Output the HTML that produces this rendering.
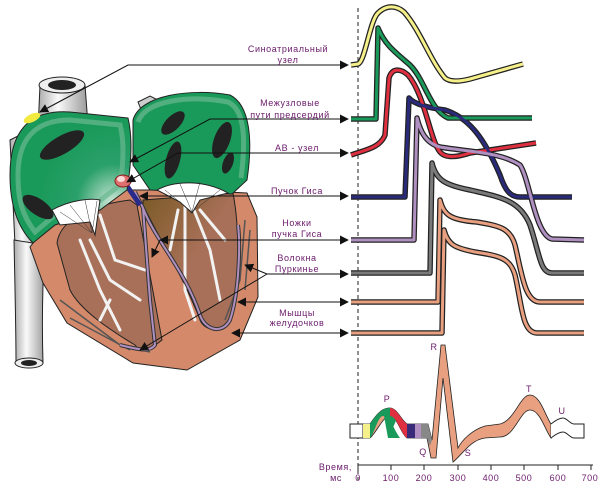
<!DOCTYPE html>
<html><head><meta charset="utf-8"><style>
html,body{margin:0;padding:0;background:#fff;width:600px;height:492px;overflow:hidden}
svg{display:block}
text{font-family:"Liberation Sans",sans-serif;font-size:9px;fill:#6a1a6a;letter-spacing:0.6px}
</style></head><body>
<svg width="600" height="492" viewBox="0 0 600 492" xmlns="http://www.w3.org/2000/svg">
<defs>
<marker id="ah" viewBox="0 0 10 10" refX="9" refY="5" markerWidth="9" markerHeight="9" orient="auto-start-reverse" markerUnits="userSpaceOnUse"><path d="M0,0 L10,5 L0,10 Z" fill="#111"/></marker>
<radialGradient id="gl" cx="0.85" cy="0.7" r="0.6"><stop offset="0" stop-color="#cfe8d8"/><stop offset="0.5" stop-color="#2aa06a"/><stop offset="1" stop-color="#1a9a5a"/></radialGradient>
<linearGradient id="tube" x1="0" x2="1"><stop offset="0" stop-color="#aaa"/><stop offset="0.4" stop-color="#fafafa"/><stop offset="1" stop-color="#999"/></linearGradient>
<linearGradient id="ch2" x1="0" y1="0" x2="1" y2="1"><stop offset="0" stop-color="#7a5a25"/><stop offset="0.5" stop-color="#a87058"/><stop offset="1" stop-color="#a87058"/></linearGradient>
</defs>

<path d="M40,85 L85,85 L88,125 L60,130 L38,130 Z" fill="url(#tube)" stroke="#222" stroke-width="1"/>
<ellipse cx="62" cy="85" rx="23" ry="8" fill="#eee" stroke="#222"/>
<ellipse cx="62" cy="85" rx="14" ry="5" fill="#222"/>
<path d="M10,140 L40,125 L35,250 L15,245 Z" fill="url(#tube)" stroke="#222"/>
<path d="M14,240 L45,245 C42,290 42,330 43,363 L16,363 C16,330 15,290 14,240 Z" fill="url(#tube)" stroke="#222"/>
<ellipse cx="29" cy="363" rx="14" ry="5" fill="#eee" stroke="#222"/>
<ellipse cx="29" cy="363" rx="8" ry="3" fill="#222"/>
<path d="M138,102 L150,96 L158,100 L156,110 L142,112 Z" fill="#ccc" stroke="#222"/>

<path d="M30,247 L53,217 L110,190 L187,190 L247,193 L257,217 L258,297 L240,340 L187,370 L133,363 L67,323 L43,283 Z" fill="#d48a6a" stroke="#222"/>
<path d="M57,243 C60,220 90,205 130,200 L137,205 L162,340 C150,350 140,352 135,345 C110,330 80,310 70,290 Z" fill="#a87058" stroke="#222"/>
<path d="M143,200 L233,193 C240,230 240,290 230,322 C222,332 205,332 200,320 C185,280 160,240 143,205 Z" fill="url(#ch2)" stroke="#222"/>
<g stroke="#f2f2f2" stroke-width="3" fill="none" stroke-linecap="round">
<path d="M80,240 L100,290 L120,330"/><path d="M90,240 L110,280 L140,300"/><path d="M100,215 L115,260 L145,270"/><path d="M110,300 L100,320"/>
<path d="M185,205 L185,290 L195,320"/><path d="M192,205 L210,250 L220,300"/><path d="M178,210 L170,250"/><path d="M200,210 L225,240"/>
</g>
<g stroke="#555" stroke-width="1.5" fill="none">
<path d="M60,300 L120,345 L150,352"/><path d="M70,318 L130,350"/><path d="M245,220 L240,280 L225,320"/><path d="M250,230 L245,290"/>
</g>
<path d="M135,192 L143,208 L150,300 L155,345 C150,352 140,350 120,345 M143,208 C155,240 185,270 200,315 C205,330 222,335 230,320 C240,290 240,240 238,225" fill="none" stroke="#333" stroke-width="4"/>
<path d="M135,192 L143,208 L150,300 L155,345 C150,352 140,350 120,345 M143,208 C155,240 185,270 200,315 C205,330 222,335 230,320 C240,290 240,240 238,225" fill="none" stroke="#b090c0" stroke-width="2"/>
<path d="M125,183 L140,205" stroke="#2a2a8a" stroke-width="5"/>

<path d="M10,175 C10,120 40,110 70,112 L128,118 C132,135 132,160 127,190 L100,210 L55,225 L33,243 C15,225 10,200 10,175 Z" fill="url(#gl)" stroke="#222"/>
<path d="M18,175 C18,130 45,120 70,120 L120,125 C124,140 124,160 120,185 L98,202 L55,215 L35,232 C22,215 18,200 18,175 Z" fill="none" stroke="#6ab890" stroke-width="5" opacity="0.7"/>
<path d="M133,120 C140,95 190,88 230,95 C250,105 253,140 247,180 L232,194 L150,190 L133,165 Z" fill="#1a9a5a" stroke="#222"/>
<path d="M138,122 C145,100 190,95 228,102 C245,110 246,140 241,178" fill="none" stroke="#6ab890" stroke-width="5" opacity="0.7"/>
<ellipse cx="32" cy="118" rx="9" ry="4" transform="rotate(-25 32 118)" fill="#f2ea40"/>
<g fill="#222">
<ellipse cx="62" cy="145" rx="25" ry="9" transform="rotate(-30 62 145)"/>
<ellipse cx="38" cy="207" rx="18" ry="8" transform="rotate(35 38 207)"/>
<ellipse cx="173" cy="123" rx="15" ry="7" transform="rotate(-45 173 123)"/>
<ellipse cx="173" cy="160" rx="7" ry="19" transform="rotate(15 173 160)"/>
<ellipse cx="222" cy="140" rx="8" ry="19" transform="rotate(20 222 140)"/>
<ellipse cx="228" cy="163" rx="5" ry="11" transform="rotate(20 228 163)"/>
</g>
<path d="M52,210 C70,200 90,198 100,200 L95,235 L90,222 L60,225 Z" fill="#fff" stroke="#222"/>
<path d="M157,190 C175,180 205,180 228,193 L200,200 L192,213 L180,202 Z" fill="#fff" stroke="#222"/>
<g stroke="#333" stroke-width="0.5"><path d="M92,233 L60,212 M92,233 L70,205 M92,233 L85,200 M92,233 L97,201 M192,212 L165,190 M192,212 L180,184 M192,212 L200,182 M192,212 L220,190"/></g>
<ellipse cx="123" cy="181" rx="8" ry="6" fill="#e07070" stroke="#822"/>
<ellipse cx="121" cy="179" rx="4" ry="3" fill="#fbdada"/>

<g stroke="#111" stroke-width="1" fill="none">
<path d="M348,65 L128,65 L40,112" marker-start="url(#ah)" marker-end="url(#ah)"/>
<path d="M348,119 L210,119 L130,162" marker-start="url(#ah)" marker-end="url(#ah)"/>
<path d="M348,153 L178,153 L127,182" marker-start="url(#ah)" marker-end="url(#ah)"/>
<path d="M348,196 L140,196" marker-start="url(#ah)" marker-end="url(#ah)"/>
<path d="M348,240 L160,240" marker-start="url(#ah)" marker-end="url(#ah)"/>
<path d="M160,240 L152,257" marker-end="url(#ah)"/>
<path d="M348,274 L267,274" marker-start="url(#ah)"/>
<path d="M267,274 L245,265" marker-end="url(#ah)"/>
<path d="M267,274 L140,350" marker-end="url(#ah)"/>
<path d="M348,302 L238,302" marker-start="url(#ah)" marker-end="url(#ah)"/>
<path d="M348,333 L232,333" marker-start="url(#ah)" marker-end="url(#ah)"/>
</g>

<g text-anchor="middle">
<text x="288" y="52">Синоатриальный</text><text x="288" y="63">узел</text>
<text x="290" y="106">Межузловые</text><text x="290" y="118">пути предсердий</text>
<text x="297" y="151">АВ - узел</text>
<text x="297" y="194">Пучок Гиса</text>
<text x="297" y="226">Ножки</text><text x="297" y="237">пучка Гиса</text>
<text x="297" y="261">Волокна</text><text x="297" y="272">Пуркинье</text>
<text x="297" y="316">Мышцы</text><text x="297" y="326">желудочков</text>
</g>

<line x1="358" y1="8" x2="358" y2="480" stroke="#222" stroke-dasharray="4,3"/>

<g fill="none" stroke-linejoin="round">
<g stroke="#222" stroke-width="5.5">
<path d="M351,65 L358,64 C365,62 370,20 378,13 C386,5 396,5 404,12 C420,30 430,60 445,78 C450,82 458,82 470,79 L523,64"/>
<path d="M351,119 L376,119 L378,28 C385,45 395,52 410,65 C425,80 430,110 448,118 L532,118"/>
<path d="M351,155 C365,150 380,148 385,135 L389,78 C392,68 400,68 408,75 C425,95 430,140 440,152 C445,158 455,158 470,153 L536,143"/>
<path d="M351,197 L405,197 L409,98 C415,105 430,108 445,110 C470,118 485,140 500,175 C505,190 510,197 520,197 L572,197"/>
<path d="M351,240 L414,240 L417,118 C420,130 425,143 440,147 C470,152 500,152 520,165 C530,180 535,235 552,239 L584,240"/>
<path d="M351,273 L430,273 L432,163 C436,180 445,185 470,190 C500,197 520,200 530,225 C540,255 540,273 552,273 L584,273"/>
<path d="M351,302 L438,302 L440,200 C444,215 450,220 477,222 C500,226 510,228 515,245 C522,275 525,302 540,302 L584,302"/>
<path d="M351,333 L442,333 L444,230 C448,245 455,248 475,252 C500,256 510,258 515,275 C522,305 522,333 537,333 L584,333"/>
</g>
<g stroke-width="3">
<path stroke="#f5f08a" d="M351,65 L358,64 C365,62 370,20 378,13 C386,5 396,5 404,12 C420,30 430,60 445,78 C450,82 458,82 470,79 L523,64"/>
<path stroke="#1a9a5a" d="M351,119 L376,119 L378,28 C385,45 395,52 410,65 C425,80 430,110 448,118 L532,118"/>
<path stroke="#e03040" d="M351,155 C365,150 380,148 385,135 L389,78 C392,68 400,68 408,75 C425,95 430,140 440,152 C445,158 455,158 470,153 L536,143"/>
<path stroke="#2a2a7a" d="M351,197 L405,197 L409,98 C415,105 430,108 445,110 C470,118 485,140 500,175 C505,190 510,197 520,197 L572,197"/>
<path stroke="#b090c0" d="M351,240 L414,240 L417,118 C420,130 425,143 440,147 C470,152 500,152 520,165 C530,180 535,235 552,239 L584,240"/>
<path stroke="#7a7a7a" d="M351,273 L430,273 L432,163 C436,180 445,185 470,190 C500,197 520,200 530,225 C540,255 540,273 552,273 L584,273"/>
<path stroke="#e8a080" d="M351,302 L438,302 L440,200 C444,215 450,220 477,222 C500,226 510,228 515,245 C522,275 525,302 540,302 L584,302"/>
<path stroke="#e8a080" d="M351,333 L442,333 L444,230 C448,245 455,248 475,252 C500,256 510,258 515,275 C522,305 522,333 537,333 L584,333"/>
</g>
</g>

<rect x="350" y="424" width="13" height="14" fill="#fff" stroke="#222"/>
<path d="M363,424 L370,424 C378,412 383,408 390,408 C397,408 401,420 407,424 L428,424 L432,440 L441,345 L445,345 L458,448 C462,440 472,430 485,426 L500,424 C515,420 520,395 530,395 C540,395 545,415 551,424 L551,438 C545,430 540,410 530,410 C520,410 515,437 500,437 L485,438 C470,440 462,455 453,462 L443,378 L436,458 L431,458 L427,438 L407,438 C401,434 397,416 390,416 C383,416 377,432 370,438 L363,438 Z" fill="#e8a080" stroke="#222" stroke-width="0.8"/>
<rect x="363" y="424" width="7" height="14" fill="#f5f08a"/>
<path d="M370,424 C378,412 383,408 390,408 C394,408 396,412 398,416 L392,430 C390,420 386,416 383,416 C378,416 375,432 370,438 Z" fill="#1a9a5a"/>
<path d="M390,408 C397,408 401,420 407,424 L407,438 C401,434 397,416 390,416 Z" fill="#e03040"/>
<path d="M384,416 C390,416 394,430 400,438 L388,438 Z" fill="#1a9a5a"/>
<rect x="407" y="424" width="8" height="14" fill="#3a2a7a"/>
<rect x="415" y="424" width="6" height="14" fill="#b090c0"/>
<path d="M421,424 L428,424 L432,440 L430,446 L427,438 L421,438 Z" fill="#888"/>
<path d="M551,424 C556,420 560,418 563,418 C567,418 570,424 574,424 L584,424 L584,438 L574,438 C570,438 567,432 563,432 C560,432 556,434 551,438" fill="#fff" stroke="#222"/>
<g text-anchor="middle" style="font-size:9px">
<text x="387" y="402">P</text><text x="434" y="350">R</text><text x="423" y="455">Q</text><text x="468" y="456">S</text><text x="529" y="392">T</text><text x="562" y="414">U</text>
</g>
<line x1="358" y1="465" x2="593" y2="465" stroke="#222"/>
<g stroke="#222"><path d="M358,465v5M391,465v5M424,465v5M458,465v5M491,465v5M524,465v5M558,465v5M591,465v5"/></g>
<g text-anchor="middle" style="font-size:9px">
<text x="358" y="481">0</text><text x="391" y="481">100</text><text x="424" y="481">200</text><text x="458" y="481">300</text><text x="491" y="481">400</text><text x="524" y="481">500</text><text x="558" y="481">600</text><text x="590" y="481">700</text>
</g>
<text x="352" y="470" text-anchor="end">Время,</text>
<text x="342" y="481" text-anchor="end">мс</text>
</svg>
</body></html>
